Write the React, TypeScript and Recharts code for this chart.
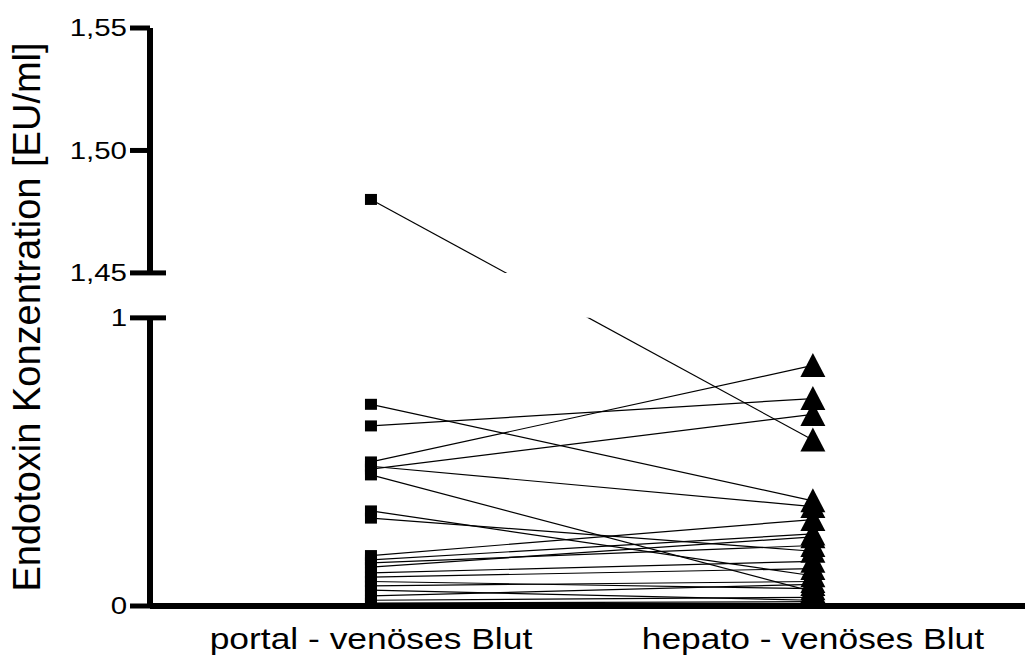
import { ComposedChart, Line, XAxis, YAxis, ReferenceLine, ReferenceArea } from 'recharts'

const GROUPS = ['portal - venöses Blut', 'hepato - venöses Blut']

// one entry per patient: portal-venous sample and matching hepato-venous sample (EU/ml)
const PORTAL = [1.48, 0.7, 0.625, 0.5, 0.485, 0.475, 0.455, 0.33, 0.305, 0.175, 0.16, 0.15, 0.135, 0.115, 0.1, 0.085, 0.07, 0.055, 0.035, 0.02, 0.01]
const HEPATO = [0.576, 0.365, 0.72, 0.835, 0.345, 0.665, 0.05, 0.105, 0.19, 0.3, 0.25, 0.21, 0.24, 0.155, 0.13, 0.06, 0.085, 0.02, 0.075, 0.03, 0.015]

const Y_TICKS = [0, 1, 1.45, 1.5, 1.55]
const Y_TICK_LABELS = ['0', '1', '1,45', '1,50', '1,55']

// broken y axis: 0..1 drawn 1:1, then a gap, then 1.45..1.55 stretched
const LOWER_MAX = 1
const UPPER_MIN = 1.45
const UPPER_MAX = 1.55
const GAP = 0.156
const UPPER_STRETCH = 8.5

const toAxis = (v: number) => (v <= LOWER_MAX ? v : LOWER_MAX + GAP + (v - UPPER_MIN) * UPPER_STRETCH)

const X_MIN = 0.5
const X_MAX = 2.48
const Y_TICK_SIZE = 20
const Y_TICK_MARGIN = 3
const FONT = "Arial, 'Liberation Sans', sans-serif"

const pairs = PORTAL.map((p, i) => [
  { x: 1, y: toAxis(p), group: 0 },
  { x: 2, y: toAxis(HEPATO[i]), group: 1 },
])

function Marker(props: any) {
  const { cx, cy, payload, index } = props
  if (cx == null || cy == null) return null
  if (payload.group === 0) {
    return <rect key={`sq-${index}`} x={cx - 6} y={cy - 5.5} width={12} height={11} fill="#000" />
  }
  return (
    <path
      key={`tri-${index}`}
      d={`M${cx},${cy - 12.5}L${cx + 12.5},${cy + 11.5}L${cx - 12.5},${cy + 11.5}Z`}
      fill="#000"
    />
  )
}

function YTick(props: any) {
  const { x, y, payload } = props
  const i = Y_TICKS.findIndex((t) => Math.abs(toAxis(t) - payload.value) < 1e-6)
  const axisX = x + Y_TICK_SIZE + Y_TICK_MARGIN
  const isBreak = Y_TICKS[i] === LOWER_MAX || Y_TICKS[i] === UPPER_MIN
  return (
    <g>
      {isBreak && <line x1={axisX} x2={axisX + 16} y1={y} y2={y} stroke="#000" strokeWidth={5} />}
      <text
        transform={`translate(${x},${y}) scale(1.28,1)`}
        textAnchor="end"
        dy="0.36em"
        fontSize={23}
        fontFamily={FONT}
        fill="#000"
      >
        {Y_TICK_LABELS[i]}
      </text>
    </g>
  )
}

function XTick(props: any) {
  const { x, y, payload } = props
  return (
    <text
      transform={`translate(${x},${y}) scale(1.18,1)`}
      textAnchor="middle"
      dy={35}
      fontSize={30}
      fontFamily={FONT}
      fill="#000"
    >
      {GROUPS[payload.value - 1]}
    </text>
  )
}

export default function App() {
  return (
    <div style={{ position: 'absolute', left: 0, top: 0, width: 1025, height: 666, background: '#fff' }}>
      <ComposedChart width={1025} height={666} margin={{ top: 28, right: 0, bottom: 0, left: 0 }}>
        <XAxis
          type="number"
          dataKey="x"
          domain={[X_MIN, X_MAX]}
          ticks={[1, 2]}
          allowDataOverflow
          height={60}
          tickLine={false}
          axisLine={{ stroke: '#000', strokeWidth: 6 }}
          tick={<XTick />}
        />
        <YAxis
          type="number"
          dataKey="y"
          domain={[0, toAxis(UPPER_MAX)]}
          ticks={Y_TICKS.map(toAxis)}
          allowDataOverflow
          width={150}
          axisLine={false}
          tickSize={Y_TICK_SIZE}
          tickMargin={Y_TICK_MARGIN}
          tickLine={{ stroke: '#000', strokeWidth: 5 }}
          tick={<YTick />}
          label={{
            value: 'Endotoxin Konzentration [EU/ml]',
            angle: -90,
            position: 'insideLeft',
            offset: 27,
            style: { textAnchor: 'middle', fontSize: 38, fontFamily: FONT, fill: '#000' },
          }}
        />
        {pairs.map((d, i) => (
          <Line
            key={i}
            data={d}
            dataKey="y"
            type="linear"
            stroke="#000"
            strokeWidth={1.2}
            dot={Marker}
            activeDot={false}
            isAnimationActive={false}
          />
        ))}
        {/* blank band where the axis is interrupted */}
        <ReferenceArea x1={1} x2={2} y1={LOWER_MAX} y2={toAxis(UPPER_MIN)} fill="#fff" fillOpacity={1} stroke="none" zIndex={450} />
        <ReferenceLine
          segment={[{ x: X_MIN, y: 0 }, { x: X_MIN, y: LOWER_MAX }]}
          stroke="#000"
          strokeWidth={6}
          ifOverflow="visible"
        />
        <ReferenceLine
          segment={[{ x: X_MIN, y: toAxis(UPPER_MIN) }, { x: X_MIN, y: toAxis(UPPER_MAX) }]}
          stroke="#000"
          strokeWidth={6}
          ifOverflow="visible"
        />
      </ComposedChart>
    </div>
  )
}
